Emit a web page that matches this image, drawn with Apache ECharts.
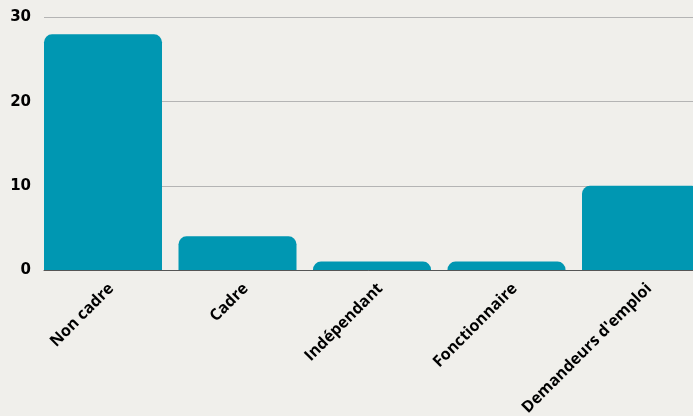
<!DOCTYPE html>
<html>
<head>
    <meta charset="UTF-8">
    <title></title>
    <style>
        html, body { margin: 0; padding: 0; background: #f0efeb; }
        #main { width: 693px; height: 416px; }
    </style>
</head>
<body>
<div id="main"></div>
<script src="https://cdn.jsdelivr.net/npm/echarts@6/dist/echarts.min.js"></script>
<script type="text/javascript">
    // données
    var categories = ['Non cadre', 'Cadre', 'Indépendant', 'Fonctionnaire', "Demandeurs d'emploi"];
    var values = [28, 4, 1, 1, 10];
    var yTicks = [0, 10, 20, 30];

    var myChart = echarts.init(document.getElementById('main'));
    var option = {
        backgroundColor: '#f0efeb',
        animation: false,
        grid: { left: 44, width: 672.5, top: 17.5, bottom: 146, outerBoundsMode: 'none', containLabel: false },
        xAxis: {
            type: 'category',
            data: categories,
            axisTick: { show: false },
            axisLine: { lineStyle: { color: '#555', width: 1 } },
            axisLabel: {
                rotate: 45,
                margin: 16,
                color: '#000',
                fontFamily: 'Open Sans',
                fontWeight: 'bold',
                fontSize: 16
            }
        },
        yAxis: {
            type: 'value',
            min: yTicks[0],
            max: yTicks[yTicks.length - 1],
            interval: 10,
            axisLabel: {
                margin: 13,
                color: '#000',
                fontFamily: 'DejaVu Sans',
                fontWeight: 'bold',
                fontSize: 15
            },
            splitLine: { lineStyle: { color: '#b4b4b4', width: 1 } }
        },
        series: [
            {
                type: 'bar',
                data: values,
                barWidth: 118,
                itemStyle: { color: '#0097b2', borderRadius: [8, 8, 0, 0] }
            },
            {
                // espace entre les barres
                type: 'bar',
                data: [],
                barWidth: 16.5,
                barGap: 0
            }
        ]
    };
    myChart.setOption(option);
</script>
</body>
</html>
